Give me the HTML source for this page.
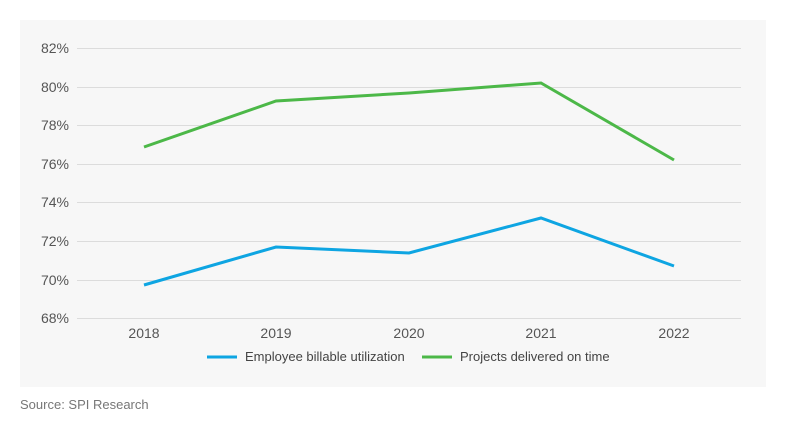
<!DOCTYPE html>
<html><head><meta charset="utf-8"><style>
html,body{margin:0;padding:0;background:#fff;width:786px;height:427px;overflow:hidden}
svg{display:block;font-family:"Liberation Sans",sans-serif}
</style></head><body>
<svg width="786" height="427" viewBox="0 0 786 427">
<rect x="20" y="20" width="746" height="367" fill="#f7f7f7"/>
<g stroke="#dcdcdc" stroke-width="1">
<line x1="77" x2="741" y1="48.5" y2="48.5"/>
<line x1="77" x2="741" y1="87.5" y2="87.5"/>
<line x1="77" x2="741" y1="125.5" y2="125.5"/>
<line x1="77" x2="741" y1="164.5" y2="164.5"/>
<line x1="77" x2="741" y1="202.5" y2="202.5"/>
<line x1="77" x2="741" y1="241.5" y2="241.5"/>
<line x1="77" x2="741" y1="280.5" y2="280.5"/>
<line x1="77" x2="741" y1="318.5" y2="318.5"/>
</g>
<g font-size="14" fill="#555" text-anchor="end">
<text x="69" y="53">82%</text>
<text x="69" y="92">80%</text>
<text x="69" y="130">78%</text>
<text x="69" y="169">76%</text>
<text x="69" y="207">74%</text>
<text x="69" y="246">72%</text>
<text x="69" y="285">70%</text>
<text x="69" y="323">68%</text>
</g>
<g font-size="14" fill="#555" text-anchor="middle">
<text x="144" y="338">2018</text>
<text x="276" y="338">2019</text>
<text x="409" y="338">2020</text>
<text x="541" y="338">2021</text>
<text x="674" y="338">2022</text>
</g>
<polyline fill="none" stroke="#4cb848" stroke-width="3" points="144,147 276,101 409,93 541,83 674,160"/>
<polyline fill="none" stroke="#0ea5e2" stroke-width="3" points="144,285 276,247 409,253 541,218 674,266"/>
<line x1="207" x2="237" y1="357" y2="357" stroke="#0ea5e2" stroke-width="3"/>
<text x="245" y="361" font-size="13" fill="#444">Employee billable utilization</text>
<line x1="422" x2="452" y1="357" y2="357" stroke="#4cb848" stroke-width="3"/>
<text x="460" y="361" font-size="13" fill="#444">Projects delivered on time</text>
<text x="20" y="409" font-size="13" fill="#777">Source: SPI Research</text>
</svg>
</body></html>
